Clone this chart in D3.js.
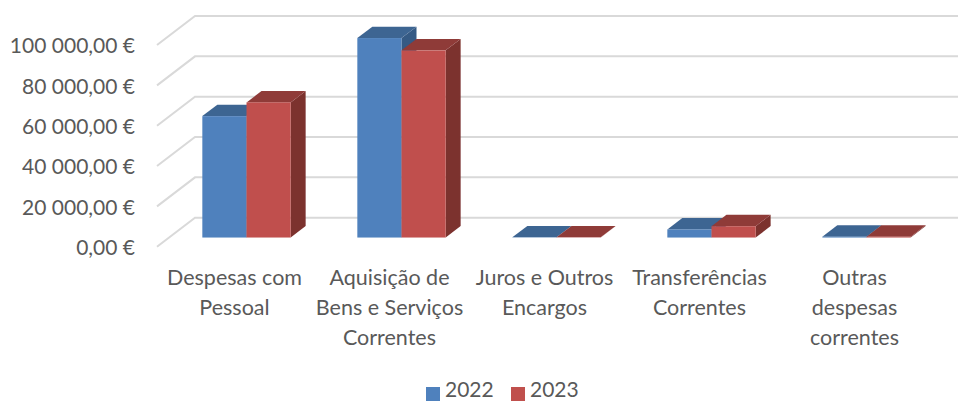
<!DOCTYPE html>
<html>
<head>
<meta charset="utf-8">
<script src="https://cdn.jsdelivr.net/npm/d3@7"></script>
<style>
  html, body { margin: 0; padding: 0; background: #fff; }
  svg { display: block; }
  text { font-family: Lato, "Open Sans", sans-serif; fill: #595959; }
</style>
</head>
<body>
<div id="chart"></div>
<script>
var categories = [
  ["Despesas com", "Pessoal"],
  ["Aquisição de", "Bens e Serviços", "Correntes"],
  ["Juros e Outros", "Encargos"],
  ["Transferências", "Correntes"],
  ["Outras", "despesas", "correntes"]
];
var seriesNames = ["2022", "2023"];
var values2022 = [60200, 98900, 100, 4000, 400];
var values2023 = [67000, 92800, 100, 5600, 400];
var yTicks = [0, 20000, 40000, 60000, 80000, 100000];

var colors = {
  "2022": { front: "#4F81BD", top: "#3E6592", side: "#355A84" },
  "2023": { front: "#C0504D", top: "#8F3A38", side: "#7C302E" }
};

var width = 958, height = 401;
var depthX = 38, depthY = -29;      // floor depth, front edge to back wall
var barStart = 0.316, barEnd = 0.71; // where the bars sit inside that depth

var svg = d3.select("#chart").append("svg")
  .attr("width", width)
  .attr("height", height);

var defs = svg.append("defs");
defs.append("filter").attr("id", "soft")
  .append("feGaussianBlur").attr("stdDeviation", 0.45);

var x = d3.scaleBand()
  .domain(d3.range(categories.length))
  .range([157, 932])
  .paddingInner(0.43)
  .paddingOuter(0.215);

var x1 = d3.scaleBand()
  .domain(seriesNames)
  .range([0, x.bandwidth()]);

var y = d3.scaleLinear()
  .domain([0, 100000])
  .range([246.7, 45]);

var locale = d3.formatLocale({ decimal: ",", thousands: " ", grouping: [3], currency: ["", " €"] });
var fmt = locale.format(",.2f");

// gridlines: one leg on the side wall, then along the back wall
var grid = svg.append("g").attr("filter", "url(#soft)");
grid.selectAll("path")
  .data(yTicks)
  .enter().append("path")
    .attr("d", function (d) {
      var p = d3.path();
      p.moveTo(x.range()[0], y(d));
      p.lineTo(x.range()[0] + depthX, y(d) + depthY);
      p.lineTo(width, y(d) + depthY);
      return p.toString();
    })
    .attr("fill", "none")
    .attr("stroke", "#D9D9D9")
    .attr("stroke-width", 2);

// y axis labels
var axis = d3.axisLeft(y)
  .tickValues(yTicks)
  .tickSize(0)
  .tickPadding(0)
  .tickFormat(function (d) { return fmt(d) + " €"; });

var axisG = svg.append("g")
  .attr("transform", "translate(135,1)")
  .call(axis);
axisG.select(".domain").remove();
axisG.selectAll("text")
  .attr("font-size", 21)
  .style("font-family", "Lato, 'Open Sans', sans-serif")
  .style("fill", "#595959");

// bars
var barsG = svg.append("g").attr("filter", "url(#soft)");

function poly(pts) {
  return pts.map(function (p) { return p.join(","); }).join(" ");
}

function drawBar(i, name, value) {
  var x0 = x(i) + x1(name) + depthX * barStart;
  var x2 = x0 + x1.bandwidth();
  var yBase = y(0) + depthY * barStart;
  var yTop = y(value) + depthY * barStart;
  var dx = depthX * (barEnd - barStart);
  var dy = depthY * (barEnd - barStart);
  var c = colors[name];

  barsG.append("polygon")
    .attr("points", poly([[x2, yBase], [x2 + dx, yBase + dy], [x2 + dx, yTop + dy], [x2, yTop]]))
    .attr("fill", c.side);
  barsG.append("polygon")
    .attr("points", poly([[x0, yTop], [x0 + dx, yTop + dy], [x2 + dx, yTop + dy], [x2, yTop]]))
    .attr("fill", c.top);
  barsG.append("rect")
    .attr("x", x0)
    .attr("y", yTop)
    .attr("width", x2 - x0)
    .attr("height", yBase - yTop)
    .attr("fill", c.front);
}

categories.forEach(function (cat, i) {
  drawBar(i, "2022", values2022[i]);
  drawBar(i, "2023", values2023[i]);
});

// category labels
var labels = svg.append("g").selectAll("text")
  .data(categories)
  .enter().append("text")
    .attr("text-anchor", "middle")
    .attr("font-size", 21.5)
    .attr("y", 285);

labels.selectAll("tspan")
  .data(function (d, i) { return d.map(function (t) { return { t: t, i: i }; }); })
  .enter().append("tspan")
    .attr("x", function (d) { return x(d.i) + x.bandwidth() / 2; })
    .attr("dy", function (d, j) { return j === 0 ? 0 : 30; })
    .text(function (d) { return d.t; });

// legend
var legendX = d3.scaleOrdinal().domain(seriesNames).range([426, 511]);
var legend = svg.append("g").selectAll("g")
  .data(seriesNames)
  .enter().append("g")
    .attr("transform", function (d) { return "translate(" + legendX(d) + ",385)"; });

legend.append("rect")
  .attr("y", 2)
  .attr("width", 14)
  .attr("height", 14)
  .attr("fill", function (d) { return colors[d].front; });

legend.append("text")
  .attr("x", 19)
  .attr("y", 12)
  .attr("font-size", 21)
  .text(function (d) { return d; });
</script>
</body>
</html>
